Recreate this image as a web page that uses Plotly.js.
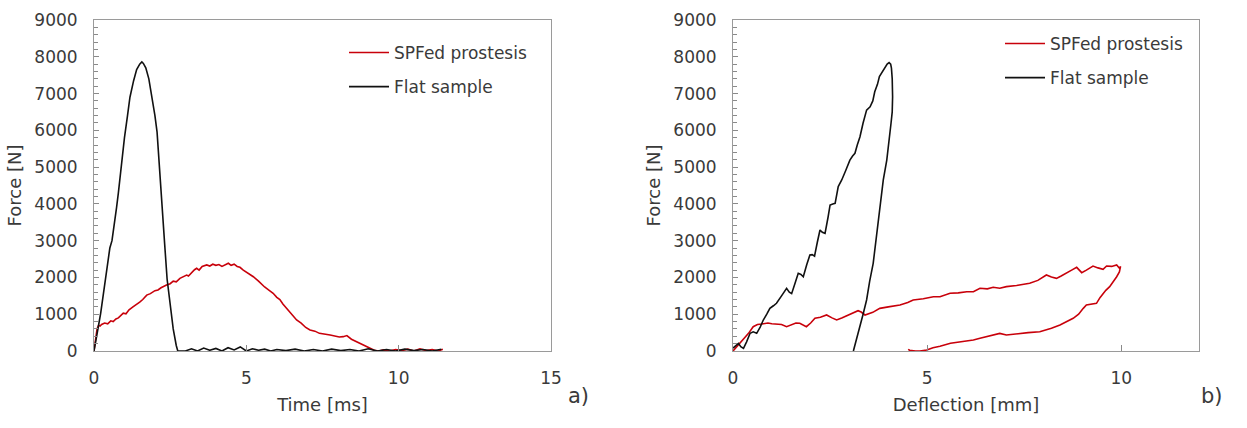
<!DOCTYPE html>
<html>
<head>
<meta charset="utf-8">
<script src="https://cdn.plot.ly/plotly-3.0.1.min.js"></script>
<style>
  html, body { margin: 0; padding: 0; background: #fff; }
  #chart { width: 1247px; height: 428px; }
</style>
</head>
<body>
<div id="chart"></div>
<script>
// a) Force vs time — SPFed prosthesis
const timeSpf = [0, 0.05, 0.1, 0.15, 0.2, 0.25, 0.35, 0.45, 0.55, 0.63, 0.72, 0.8, 0.9, 0.96, 1.05, 1.15, 1.29, 1.4, 1.5, 1.6,
  1.73, 1.85, 2.0, 2.1, 2.2, 2.38, 2.5, 2.6, 2.7, 2.82, 2.9, 3.04, 3.1, 3.2, 3.3, 3.37, 3.45, 3.55, 3.7, 3.8,
  3.9, 4.0, 4.1, 4.2, 4.3, 4.41, 4.5, 4.6, 4.7, 4.79, 4.9, 5.0, 5.1, 5.23, 5.4, 5.6, 5.75, 5.88, 6.0, 6.1,
  6.2, 6.32, 6.45, 6.55, 6.65, 6.8, 6.95, 7.09, 7.25, 7.4, 7.55, 7.65, 7.75, 7.9, 8.05, 8.18, 8.3, 8.45, 8.62, 8.75,
  8.9, 9.06, 9.2, 9.35, 9.5, 9.7, 9.9, 10.1, 10.3, 10.5, 10.7, 10.9, 11.1, 11.3, 11.45];
const forceSpfTime = [0, 350, 600, 700, 680, 720, 760, 740, 820, 800, 870, 900, 980, 1030, 1010, 1120, 1205, 1260, 1330, 1400,
  1520, 1560, 1640, 1660, 1720, 1795, 1830, 1900, 1880, 1975, 2000, 2065, 2040, 2130, 2210, 2250, 2200, 2300, 2340, 2310,
  2360, 2330, 2350, 2300, 2340, 2385, 2330, 2360, 2300, 2275, 2200, 2150, 2100, 2020, 1900, 1740, 1650, 1570, 1460, 1400,
  1280, 1160, 1050, 950, 843, 760, 640, 571, 540, 480, 470, 450, 435, 400, 380, 390, 420, 320, 253, 200,
  130, 73, 20, 0, 30, 0, 40, 10, 50, 0, 60, 10, 40, 0, 50];

// a) Force vs time — flat sample
const timeFlat = [0, 0.05, 0.1, 0.15, 0.22, 0.3, 0.36, 0.45, 0.52, 0.59, 0.66, 0.74, 0.8, 0.87, 0.94, 1.0, 1.1, 1.18, 1.3, 1.4,
  1.5, 1.57, 1.62, 1.7, 1.8, 1.9, 2.0, 2.07, 2.15, 2.23, 2.32, 2.4, 2.5, 2.6, 2.7, 2.75,
  3.0, 3.2, 3.4, 3.6, 3.8, 4.0, 4.2, 4.4, 4.6, 4.8, 5.0, 5.2, 5.4, 5.6, 5.8, 6.0,
  6.3, 6.6, 6.9, 7.2, 7.5, 7.8, 8.1, 8.4, 8.7, 9.0, 9.3, 9.6, 9.9, 10.2, 10.5, 10.8, 11.1, 11.4];
const forceFlatTime = [0, 200, 450, 700, 1030, 1500, 1930, 2450, 2800, 3000, 3500, 3900, 4300, 4900, 5300, 5800, 6400, 6900, 7350, 7650,
  7800, 7860, 7820, 7700, 7400, 6950, 6400, 5950, 4900, 3950, 2900, 1950, 1200, 600, 150, 0,
  0, 60, 0, 80, 20, 70, 0, 90, 30, 110, 0, 60, 20, 50, 0, 40,
  10, 50, 0, 40, 0, 50, 10, 40, 0, 60, 0, 40, 0, 50, 10, 40, 0, 50];

// b) Force vs deflection — SPFed prosthesis (loading, then unloading)
const deflSpf = [0, 0.1, 0.2, 0.27, 0.4, 0.52, 0.63, 0.74, 0.9, 1.0, 1.12, 1.25, 1.38, 1.5, 1.62, 1.72, 1.89, 2.0, 2.11, 2.25,
  2.41, 2.55, 2.67, 2.8, 2.96, 3.1, 3.22, 3.3, 3.4, 3.6, 3.78, 4.0, 4.15, 4.3, 4.5, 4.64, 4.9, 5.16, 5.33, 5.59,
  5.8, 6.02, 6.19, 6.36, 6.55, 6.7, 6.87, 7.04, 7.3, 7.64, 7.85, 8.07, 8.2, 8.33, 8.45, 8.59, 8.72, 8.85, 8.98, 9.1,
  9.27, 9.4, 9.53, 9.62, 9.75, 9.88, 9.95, 9.98,
  9.95, 9.88, 9.79, 9.7, 9.6, 9.53, 9.45, 9.36, 9.23, 9.1, 9.02, 8.9, 8.76, 8.6, 8.42, 8.2, 7.9, 7.6, 7.3,
  7.04, 6.87, 6.6, 6.36, 6.19, 6.0, 5.84, 5.6, 5.33, 5.15, 4.99, 4.9, 4.81, 4.7, 4.64, 4.55, 4.51];
const forceSpfDefl = [0, 120, 230, 300, 480, 661, 720, 734, 760, 740, 734, 720, 661, 700, 760, 753, 661, 760, 889, 920,
  979, 900, 843, 900, 979, 1040, 1096, 1060, 979, 1050, 1160, 1200, 1230, 1250, 1320, 1387, 1420, 1476, 1476, 1569,
  1580, 1612, 1612, 1705, 1690, 1732, 1705, 1750, 1780, 1840, 1920, 2066, 2010, 1975, 2040, 2112, 2200, 2275, 2130, 2200,
  2310, 2260, 2220, 2310, 2300, 2340, 2250, 2300,
  2150, 2020, 1880, 1750, 1650, 1569, 1450, 1297, 1270, 1250, 1160, 1000, 889, 800, 707, 620, 525, 500, 470,
  435, 480, 400, 345, 300, 270, 253, 209, 130, 90, 27, 10, 0, 0, 0, 20, 45];

// b) Force vs deflection — flat sample
const deflFlat = [0, 0.07, 0.14, 0.2, 0.27, 0.35, 0.44, 0.52, 0.61, 0.7, 0.78, 0.87, 0.95, 1.04, 1.12, 1.25, 1.38, 1.45, 1.51, 1.6,
  1.68, 1.75, 1.81, 1.9, 1.98, 2.04, 2.1, 2.17, 2.24, 2.3, 2.37, 2.45, 2.5, 2.57, 2.63, 2.71, 2.8, 2.9, 3.01, 3.08,
  3.14, 3.2, 3.27, 3.35, 3.44, 3.53, 3.6, 3.65, 3.72, 3.77, 3.85, 3.91, 3.97, 4.02, 4.06, 4.08, 4.1, 4.11, 4.1, 4.07,
  4.04, 3.96, 3.87, 3.78, 3.7, 3.61, 3.52, 3.44, 3.35, 3.27, 3.18, 3.1];
const forceFlatDefl = [80, 150, 209, 120, 73, 250, 481, 520, 481, 650, 843, 1000, 1160, 1230, 1297, 1500, 1705, 1600, 1560, 1850,
  2112, 2080, 2020, 2350, 2610, 2620, 2580, 2950, 3290, 3230, 3200, 3650, 3970, 4000, 4015, 4470, 4650, 4900, 5190, 5300,
  5375, 5600, 5825, 6200, 6550, 6640, 6800, 7050, 7250, 7460, 7600, 7730, 7800, 7840, 7800, 7690, 7400, 6915, 6500, 6200,
  5920, 5190, 4650, 3900, 3100, 2385, 1900, 1387, 1000, 661, 300, 0];

const seriesNames = ['SPFed prostesis', 'Flat sample'];

const RED = '#c8000a';
const BLACK = '#111111';
const AXIS = '#9a9a9a';
const TICK = '#8a8a8a';
const TEXT = '#3a3a3a';
const FONT = 'DejaVu Sans, sans-serif';

function line(x, y, name, color, xa, ya, legendId, group) {
  return {
    x: x, y: y, name: name, type: 'scatter', mode: 'lines',
    line: { color: color, width: 1.6 },
    xaxis: xa, yaxis: ya, legend: legendId, legendgroup: group
  };
}

const traces = [
  line(timeSpf, forceSpfTime, seriesNames[0], RED, 'x', 'y', 'legend', 'a1'),
  line(timeFlat, forceFlatTime, seriesNames[1], BLACK, 'x', 'y', 'legend', 'a2'),
  line(deflSpf, forceSpfDefl, seriesNames[0], RED, 'x2', 'y2', 'legend2', 'b1'),
  line(deflFlat, forceFlatDefl, seriesNames[1], BLACK, 'x2', 'y2', 'legend2', 'b2')
];

function xAxis(domain, range, title, anchor) {
  return {
    domain: domain, range: range, anchor: anchor, tick0: 0, dtick: 5,
    showline: true, linecolor: AXIS, linewidth: 1, mirror: true,
    ticks: 'inside', ticklen: 6, tickcolor: TICK, showgrid: false, zeroline: false,
    tickfont: { family: FONT, size: 17, color: TEXT }, ticklabelstandoff: 12,
    title: { text: title, font: { family: FONT, size: 18, color: TEXT }, standoff: 10 },
    automargin: false, fixedrange: true
  };
}
function yAxis(domain, anchor) {
  return {
    domain: domain, range: [0, 9000], anchor: anchor, tick0: 0, dtick: 1000,
    showline: true, linecolor: AXIS, linewidth: 1, mirror: true,
    ticks: 'inside', ticklen: 5, tickcolor: TICK, showgrid: false, zeroline: false,
    minor: { tick0: 0, dtick: 200, ticks: 'inside', ticklen: 4, tickcolor: TICK, tickwidth: 1, showgrid: false },
    tickfont: { family: FONT, size: 17, color: TEXT }, ticklabelstandoff: 12,
    title: { text: 'Force [N]', font: { family: FONT, size: 18, color: TEXT }, standoff: 8 },
    automargin: false, fixedrange: true
  };
}

const yDom = [77 / 428, 408 / 428];
const legendBase = {
  xanchor: 'left', yanchor: 'top', bgcolor: 'rgba(0,0,0,0)', borderwidth: 0,
  font: { family: FONT, size: 17, color: TEXT }, tracegroupgap: 9, itemwidth: 40
};

const layout = {
  width: 1247, height: 428,
  margin: { l: 0, r: 0, t: 0, b: 0 },
  paper_bgcolor: '#ffffff', plot_bgcolor: '#ffffff',
  showlegend: true,
  xaxis: xAxis([94 / 1247, 551 / 1247], [0, 15], 'Time [ms]', 'y'),
  yaxis: yAxis(yDom, 'x'),
  xaxis2: xAxis([733 / 1247, 1199 / 1247], [0, 12], 'Deflection [mm]', 'y2'),
  yaxis2: yAxis(yDom, 'x2'),
  legend: Object.assign({ x: 344 / 1247, y: 1 - 35 / 428 }, legendBase),
  legend2: Object.assign({ x: 1000 / 1247, y: 1 - 26 / 428 }, legendBase),
  annotations: [
    { text: 'a)', x: 578 / 1247, y: 1 - 410 / 428, xref: 'paper', yref: 'paper', showarrow: false,
      font: { family: FONT, size: 21, color: TEXT } },
    { text: 'b)', x: 1225 / 1247, y: 1 - 410 / 428, xref: 'paper', yref: 'paper', showarrow: false,
      font: { family: FONT, size: 21, color: TEXT } }
  ]
};

Plotly.newPlot('chart', traces, layout, { staticPlot: true, displayModeBar: false });
</script>
</body>
</html>
